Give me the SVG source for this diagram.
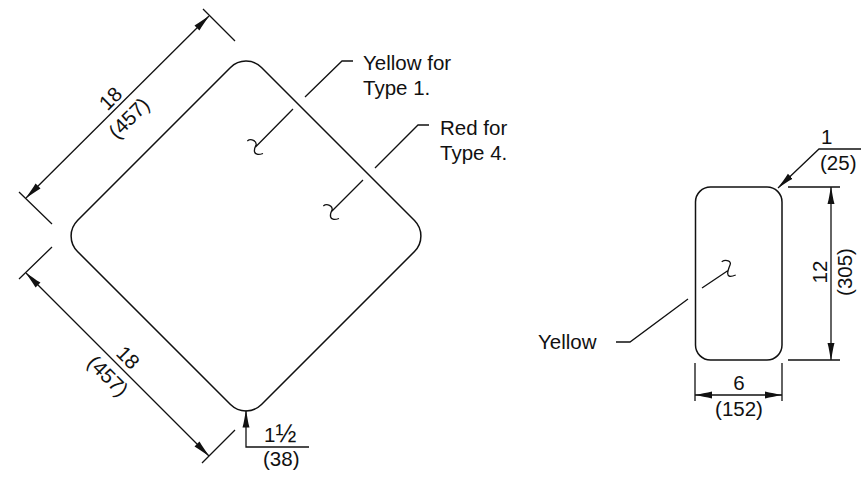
<svg xmlns="http://www.w3.org/2000/svg" width="865" height="477" viewBox="0 0 865 477">
<style>
.l{fill:none;stroke:#111;stroke-width:1.3}
.o{fill:none;stroke:#111;stroke-width:1.5}
text{font-family:"Liberation Sans",Arial,sans-serif;font-size:20.500px;fill:#111}
.m{text-anchor:middle}
</style>
<defs>
<marker id="a" markerUnits="userSpaceOnUse" markerWidth="18" markerHeight="10" refX="17" refY="5" orient="auto-start-reverse"><path d="M0 1.500C5 3 12 3.800 17 5C12 6.200 5 7 0 8.500Z" fill="#111"/></marker>
</defs>
<rect width="865" height="477" fill="#fff"/>
<g id="diamond-sign"><path class="o" d="M230.500 67.500A22 22 0 0 1 261.500 67.500L414.500 220.500A22 22 0 0 1 414.500 251.500L261.500 404.500A22 22 0 0 1 230.500 404.500L77.500 251.500A22 22 0 0 1 77.500 220.500Z"/></g>
<g id="vertical-sign"><rect class="o" x="695.500" y="187" width="86.500" height="173" rx="15"/></g>
<g id="connectors">
<path class="l" d="M203 9L235 41M19 192L52 224M52 247L19 279M235 430L202 463"/>
<path class="l" d="M26 198L209 16" marker-start="url(#a)" marker-end="url(#a)"/>
<path class="l" d="M26 273L209 456" marker-start="url(#a)" marker-end="url(#a)"/>
<path class="l" d="M309 447H246V410.500" marker-end="url(#a)"/>
<path class="l" d="M305 97L342 61H353M375 168L418 125H429"/>
<path class="l" d="M293 109L255.500 147M247.300 141C251 138 257 141 256 145C254 149 252 157 263 153.500"/>
<path class="l" d="M363 180L331 212M323.300 206C327 203 333 206 332 210C330 214 328 222 339 218.500"/>
<path class="l" d="M861 149H819L778 188" marker-end="url(#a)"/>
<path class="l" d="M788 187H840M788 360H840"/>
<path class="l" d="M831 187V360" marker-start="url(#a)" marker-end="url(#a)"/>
<path class="l" d="M695 363V401M782 363V401"/>
<path class="l" d="M695 395H782" marker-start="url(#a)" marker-end="url(#a)"/>
<path class="l" d="M616 342H630L688 299M702 288L727.700 270.700M721.700 261.700C726 259 732 261 730 265C728 270 724 280 735.700 275"/>
</g>
<g id="labels">
<text class="m" transform="translate(115.500 103.500) rotate(-45)">18</text>
<text class="m" transform="translate(134 123) rotate(-45)">(457)</text>
<text class="m" transform="translate(123 362.500) rotate(45)">18</text>
<text class="m" transform="translate(103 381) rotate(45)">(457)</text>
<text x="363" y="70">Yellow for</text>
<text x="363" y="95">Type 1.</text>
<text x="440" y="135">Red for</text>
<text x="440" y="160">Type 4.</text>
<text x="264" y="442">1<tspan font-size="25">½</tspan></text>
<text x="263" y="466">(38)</text>
<text x="538" y="349">Yellow</text>
<text class="m" x="739" y="390">6</text>
<text class="m" x="739" y="416">(152)</text>
<text class="m" transform="translate(827 272) rotate(-90)">12</text>
<text class="m" transform="translate(851.500 272) rotate(-90)">(305)</text>
<text x="821" y="144">1</text>
<text x="820" y="169.500">(25)</text>
</g>
</svg>
